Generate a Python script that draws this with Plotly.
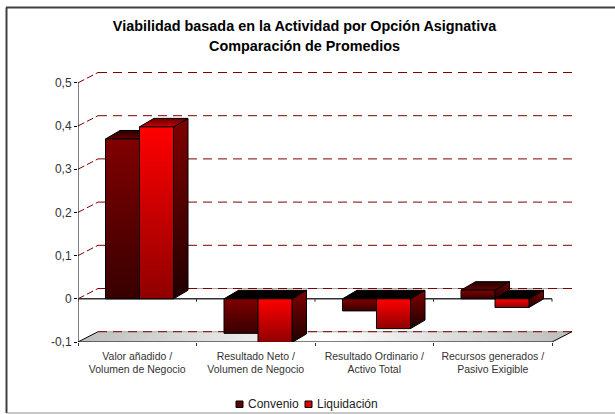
import plotly.graph_objects as go

categories = ["Valor añadido /<br>Volumen de Negocio", "Resultado Neto /<br>Volumen de Negocio",
              "Resultado Ordinario /<br>Activo Total", "Recursos generados /<br>Pasivo Exigible"]
convenio = [0.370, -0.080, -0.028, 0.020]
liquidacion = [0.398, -0.101, -0.069, -0.020]
y_ticks = [-0.1, 0, 0.1, 0.2, 0.3, 0.4, 0.5]
y_labels = ["-0,1", "0", "0,1", "0,2", "0,3", "0,4", "0,5"]
title_line1 = "Viabilidad basada en la Actividad por Opción Asignativa"
title_line2 = "Comparación de Promedios"
series_names = ["Convenio", "Liquidación"]

W, H = 615, 414
L, R, T, B = 78, 43, 72, 72
PX = 118.5   # px per category
PY = 432.0   # px per y unit
x_max = (W - L - R) / PX
y_min = -0.1
y_max = y_min + (H - T - B) / PY
WALL_DX, WALL_DY = 20 / PX, 10.3 / PY
BAR_DX, BAR_DY = 14.5 / PX, 8.5 / PY
BAR_W = 34 / PX
BAR_GAP = 27.5 / PX
n = len(categories)

fig = go.Figure()


def line(xs, ys, color, width=1, dash=None):
    fig.add_trace(go.Scatter(x=xs, y=ys, mode="lines", showlegend=False, hoverinfo="skip",
                             cliponaxis=False, line=dict(color=color, width=width, dash=dash)))


def face(xs, ys, top, bottom, orient="vertical"):
    fig.add_trace(go.Scatter(
        x=xs + xs[:1], y=ys + ys[:1], mode="lines", fill="toself", showlegend=False, hoverinfo="skip",
        cliponaxis=False, line=dict(color="#000000", width=1),
        fillgradient=dict(type=orient, colorscale=[[0, bottom], [1, top]])))


# floor
fig.add_trace(go.Scatter(
    x=[0, n, n + WALL_DX, WALL_DX, 0],
    y=[y_min, y_min, y_min + WALL_DY, y_min + WALL_DY, y_min],
    mode="lines", fill="toself", showlegend=False, hoverinfo="skip", cliponaxis=False,
    line=dict(color="rgba(0,0,0,0)", width=0),
    fillgradient=dict(type="horizontal", colorscale=[[0, "#bdbdbd"], [0.5, "#ffffff"], [1, "#bdbdbd"]])))

# back wall grid
for v in y_ticks:
    if v in (0, -0.1):
        line([WALL_DX, n + WALL_DX], [v + WALL_DY, v + WALL_DY], "#a9a9a9", 1)
    line([WALL_DX, n + WALL_DX], [v + WALL_DY, v + WALL_DY], "#800000", 1, "9px,6px")
    if v != -0.1:
        line([0, WALL_DX], [v, v + WALL_DY], "#800000", 1, "7px,3px")

# axes
line([0, 0], [y_min, 0.5], "#000000", 1)
line([0, n], [y_min, y_min], "#000000", 1)
line([n, n + WALL_DX], [y_min, y_min + WALL_DY], "#000000", 1)
line([0, WALL_DX], [y_min, y_min + WALL_DY], "#000000", 1)
line([0, n], [0, 0], "#333333", 1.5)
for k in range(n + 1):
    line([k, k], [0, -3 / PY], "#333333", 1)

# bars
styles = [
    dict(front=("#800000", "#380000"), side=("#700000", "#200000"), cap=("#200000", "#680000")),
    dict(front=("#ff0000", "#900000"), side=("#800000", "#200000"), cap=("#680000", "#c80000")),
]
for i in range(n):
    for s, vals in enumerate([convenio, liquidacion]):
        v = vals[i]
        x0 = i + BAR_GAP + s * BAR_W
        x1 = x0 + BAR_W
        st = styles[s]
        top = max(v, 0)
        low = min(v, 0)
        # side face
        face([x1, x1 + BAR_DX, x1 + BAR_DX, x1],
             [top, top + BAR_DY, low + BAR_DY, low], *st["side"])
        # top cap
        if v >= 0:
            face([x0, x1, x1 + BAR_DX, x0 + BAR_DX], [top, top, top + BAR_DY, top + BAR_DY], *st["cap"])
        else:
            face([x0, x1, x1 + BAR_DX, x0 + BAR_DX], [top, top, top + BAR_DY, top + BAR_DY], "#000000", "#000000")
        # front face
        face([x0, x1, x1, x0], [top, top, low, low], *st["front"])


def px(x):
    return (x - L) / (W - L - R)


def py(y):
    return (H - B - y) / (H - T - B)


# frame
shapes = [
    dict(type="line", xref="paper", yref="paper", x0=px(6.5), x1=px(6.5), y0=py(7.5), y1=py(413),
         line=dict(color="#404040", width=2)),
    dict(type="line", xref="paper", yref="paper", x0=px(6), x1=px(615), y0=py(7.5), y1=py(7.5),
         line=dict(color="#404040", width=2)),
    dict(type="line", xref="paper", yref="paper", x0=px(6), x1=px(615), y0=py(413), y1=py(413),
         line=dict(color="#909090", width=1)),
]
# legend keys
key_x = [236, 305]
text_x = [246, 315]
fills = ["#600000", "#e00000"]
annots = [dict(text=title_line2, xref="paper", yref="paper", x=px(304.5), y=py(45.5), xanchor="center",
               yanchor="middle", showarrow=False,
               font=dict(family="Liberation Sans", size=14.4, color="#000000", weight="bold"))]
for kx, tx, c, name in zip(key_x, text_x, fills, series_names):
    shapes.append(dict(type="rect", xref="paper", yref="paper", x0=px(kx), x1=px(kx + 7), y0=py(407.5), y1=py(401),
                       fillcolor=c, line=dict(color="#000000", width=1)))
    annots.append(dict(text=name, xref="paper", yref="paper", x=px(tx), y=py(404), xanchor="left", yanchor="middle",
                       showarrow=False, font=dict(family="Liberation Sans", size=12, color="#222222")))

fig.update_layout(
    width=W, height=H, autosize=False, showlegend=False,
    margin=dict(l=L, r=R, t=T, b=B, pad=0),
    paper_bgcolor="#ffffff", plot_bgcolor="rgba(0,0,0,0)",
    font=dict(family="Liberation Sans", color="#333333"),
    title=dict(text=title_line1, x=304.5 / W, xanchor="center", y=1 - 25.5 / H, yanchor="middle",
               font=dict(family="Liberation Sans", size=14.4, color="#000000", weight="bold")),
    shapes=shapes, annotations=annots,
    xaxis=dict(range=[0, x_max], tickmode="array", tickvals=[k + 0.5 for k in range(n)], ticktext=categories,
               ticks="", showgrid=False, zeroline=False, showline=False, ticklabelstandoff=6,
               tickfont=dict(size=10.5, color="#333333"),
               minor=dict(tickmode="array", tickvals=list(range(n + 1)), ticks="outside", ticklen=3,
                          tickcolor="#333333", tickwidth=1, showgrid=False)),
    yaxis=dict(range=[y_min, y_max], tickmode="array", tickvals=y_ticks, ticktext=y_labels, ticks="outside",
               ticklen=3, tickcolor="#000000", tickwidth=1, showgrid=False, zeroline=False, showline=False,
               tickfont=dict(size=12, color="#333333")),
)
fig.write_html("out.html", config={"displayModeBar": False}, post_script="document.body.style.margin='0';")
